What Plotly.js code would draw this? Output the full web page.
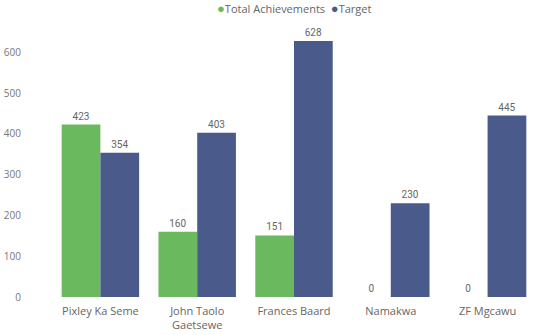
<!DOCTYPE html>
<html>
<head>
<meta charset="utf-8">
<script src="https://cdn.plot.ly/plotly-3.0.1.min.js"></script>
<style>html,body{margin:0;padding:0;background:#fff;}#chart{width:539px;height:335px;}</style>
</head>
<body>
<div id="chart"></div>
<script>
var categories = ["Pixley Ka Seme", "John Taolo<br>Gaetsewe", "Frances Baard", "Namakwa", "ZF Mgcawu"];
var seriesNames = ["Total Achievements", "Target"];
var seriesColors = ["#6BB95E", "#4A5A8B"];
var achievements = [423, 160, 151, 0, 0];
var target = [354, 403, 628, 230, 445];
var yTicks = [0, 100, 200, 300, 400, 500, 600];

var labelFont = {family: "Roboto, 'DejaVu Sans', sans-serif", size: 10, color: "#666666"};
var traces = [achievements, target].map(function (vals, i) {
  return {type: "bar", name: seriesNames[i], x: categories, y: vals,
    marker: {color: seriesColors[i]}, text: vals.map(String), textposition: "outside",
    textfont: labelFont, cliponaxis: false, hoverinfo: "none", showlegend: false};
});
var legendText = seriesNames.map(function (n, i) {
  return "<span style='color:" + seriesColors[i] + ";font-size:13px'>●</span>" + n;
}).join("&nbsp;&nbsp;");
var layout = {
  width: 539, height: 335,
  margin: {l: 52, r: 3, t: 36, b: 38},
  paper_bgcolor: "#ffffff", plot_bgcolor: "#ffffff",
  barmode: "group", bargap: 0.2, bargroupgap: 0,
  font: {family: "'Open Sans', 'Noto Sans', sans-serif", color: "#777777", size: 11},
  showlegend: false,
  annotations: [{text: legendText, xref: "paper", yref: "paper", x: 0.5, y: 1.15,
    xanchor: "center", yanchor: "top", showarrow: false,
    font: {size: 11, color: "#666666", family: "'Open Sans', 'Noto Sans', sans-serif"}}],
  xaxis: {showgrid: false, zeroline: false, showline: false, ticks: "", ticklabelstandoff: 6,
          tickfont: {size: 11, color: "#666666"}},
  yaxis: {range: [0, 640], tickvals: yTicks, showgrid: false, zeroline: false, showline: false,
          ticks: "", ticklabelstandoff: 30, tickfont: {size: 10, color: "#777777"}}
};
Plotly.newPlot("chart", traces, layout, {displayModeBar: false, staticPlot: true});
</script>
</body>
</html>
